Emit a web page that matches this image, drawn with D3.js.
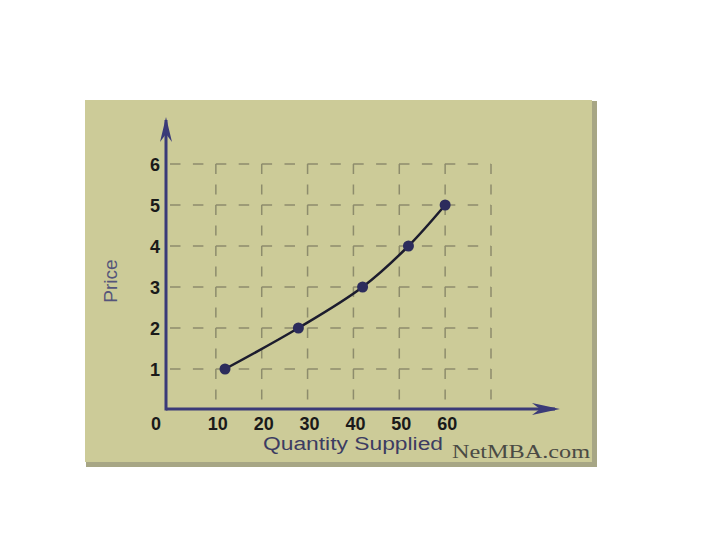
<!DOCTYPE html>
<html>
<head>
<meta charset="utf-8">
<script src="https://cdn.jsdelivr.net/npm/d3@7"></script>
<style>
  body { margin: 0; background: #ffffff; }
</style>
</head>
<body>
<div id="chart"></div>
<script>
// Supply schedule
var prices = [1, 2, 3, 4, 5];
var quantities = [12, 28, 42, 52, 60];
var xTickValues = [10, 20, 30, 40, 50, 60];
var yTickValues = [1, 2, 3, 4, 5, 6];
var xGridValues = [10, 20, 30, 40, 50, 60, 70];

var svgWidth = 720;
var svgHeight = 540;

var svg = d3.select("#chart").append("svg")
    .attr("width", svgWidth)
    .attr("height", svgHeight);

// Panel with a darker edge on the right and bottom
svg.append("rect")
    .attr("x", 86).attr("y", 101)
    .attr("width", 511).attr("height", 366)
    .attr("fill", "#a7a685");
svg.append("rect")
    .attr("x", 85).attr("y", 100)
    .attr("width", 507).attr("height", 362)
    .attr("fill", "#cccb98");

// Scales
var xScale = d3.scaleLinear().domain([0, 70]).range([170, 491]);
var yScale = d3.scaleLinear().domain([0, 6]).range([410, 164]);

var gridColor = "#8d8c6c";

// Horizontal dashed grid
svg.selectAll(".hgrid")
    .data(yTickValues)
    .enter()
    .append("line")
    .attr("class", "hgrid")
    .attr("x1", xScale(0)).attr("x2", xScale(70))
    .attr("y1", function(d) { return yScale(d); })
    .attr("y2", function(d) { return yScale(d); })
    .attr("stroke", gridColor)
    .attr("stroke-width", 1.5)
    .attr("stroke-dasharray", "10.5 12.4");

// Vertical dashed grid
svg.selectAll(".vgrid")
    .data(xGridValues)
    .enter()
    .append("line")
    .attr("class", "vgrid")
    .attr("x1", function(d) { return xScale(d); })
    .attr("x2", function(d) { return xScale(d); })
    .attr("y1", yScale(6)).attr("y2", yScale(0))
    .attr("stroke", gridColor)
    .attr("stroke-width", 1.5)
    .attr("stroke-dasharray", "10 10.5");

// Axes with chevron arrow heads
var axisColor = "#3a3a78";
var axisX = 166;
var axisY = 409;

svg.append("line")
    .attr("x1", axisX).attr("x2", 555)
    .attr("y1", axisY).attr("y2", axisY)
    .attr("stroke", axisColor).attr("stroke-width", 3);
svg.append("line")
    .attr("x1", axisX).attr("x2", axisX)
    .attr("y1", axisY + 1.5).attr("y2", 120)
    .attr("stroke", axisColor).attr("stroke-width", 3);

svg.append("path")
    .attr("d", "M532," + (axisY - 6) + " L560," + axisY + " L532," + (axisY + 6) + " L540," + axisY + " Z")
    .attr("fill", axisColor);
svg.append("path")
    .attr("d", "M" + (axisX - 6) + ",142 L" + axisX + ",117 L" + (axisX + 6) + ",142 L" + axisX + ",134 Z")
    .attr("fill", axisColor);

// Tick labels
svg.selectAll(".xtick")
    .data(xTickValues)
    .enter()
    .append("text")
    .attr("class", "xtick")
    .attr("x", function(d) { return xScale(d) + 2; })
    .attr("y", 430)
    .attr("text-anchor", "middle")
    .attr("font-family", "Liberation Sans, Arial, sans-serif")
    .attr("font-weight", "bold")
    .attr("font-size", "18px")
    .attr("fill", "#1a1a1a")
    .text(function(d) { return d; });

svg.selectAll(".ytick")
    .data(yTickValues)
    .enter()
    .append("text")
    .attr("class", "ytick")
    .attr("x", 155)
    .attr("y", function(d) { return yScale(d) + 6.5; })
    .attr("text-anchor", "middle")
    .attr("font-family", "Liberation Sans, Arial, sans-serif")
    .attr("font-weight", "bold")
    .attr("font-size", "18px")
    .attr("fill", "#1a1a1a")
    .text(function(d) { return d; });

svg.append("text")
    .attr("x", 156).attr("y", 430)
    .attr("text-anchor", "middle")
    .attr("font-family", "Liberation Sans, Arial, sans-serif")
    .attr("font-weight", "bold")
    .attr("font-size", "18px")
    .attr("fill", "#1a1a1a")
    .text("0");

// Axis titles
svg.append("text")
    .attr("transform", "translate(117, 281) rotate(-90)")
    .attr("text-anchor", "middle")
    .attr("font-family", "Liberation Sans, Arial, sans-serif")
    .attr("font-size", "19px")
    .attr("fill", "#55557a")
    .text("Price");

svg.append("text")
    .attr("x", 263).attr("y", 450)
    .attr("font-family", "Liberation Sans, Arial, sans-serif")
    .attr("font-size", "18px")
    .attr("textLength", 180)
    .attr("lengthAdjust", "spacingAndGlyphs")
    .attr("fill", "#3c3c62")
    .text("Quantity Supplied");

svg.append("text")
    .attr("x", 452).attr("y", 458)
    .attr("font-family", "Liberation Serif, Times New Roman, serif")
    .attr("font-size", "19px")
    .attr("textLength", 138)
    .attr("lengthAdjust", "spacingAndGlyphs")
    .attr("fill", "#4a4a44")
    .text("NetMBA.com");

// Supply curve
var points = prices.map(function(p, i) { return [quantities[i], p]; });

var line = d3.line()
    .x(function(d) { return xScale(d[0]); })
    .y(function(d) { return yScale(d[1]); })
    .curve(d3.curveCatmullRom);

svg.append("path")
    .datum(points)
    .attr("d", line)
    .attr("fill", "none")
    .attr("stroke", "#1c1c2e")
    .attr("stroke-width", 2.5);

svg.selectAll(".dot")
    .data(points)
    .enter()
    .append("circle")
    .attr("class", "dot")
    .attr("cx", function(d) { return xScale(d[0]); })
    .attr("cy", function(d) { return yScale(d[1]); })
    .attr("r", 5.5)
    .attr("fill", "#2c2c5c");
</script>
</body>
</html>
